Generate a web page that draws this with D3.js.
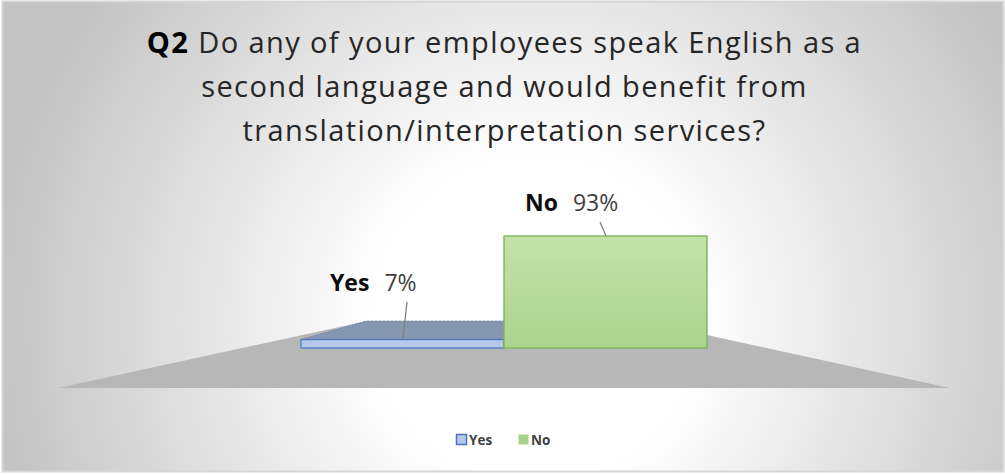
<!DOCTYPE html>
<html>
<head>
<meta charset="utf-8">
<script src="https://cdn.jsdelivr.net/npm/d3@7"></script>
<style>
  html, body { margin: 0; padding: 0; background: #ffffff; }
  svg { display: block; }
</style>
</head>
<body>
<div id="viz"></div>
<script>
// Survey answer shares.
const categories = ["Yes", "No"];
const values = [7, 93];
const valueLabels = ["7%", "93%"];
const titleLines = [
  ["Q2", " Do any of your employees speak English as a"],
  ["", "second language and would benefit from"],
  ["", "translation/interpretation services?"]
];

const W = 1005, H = 474;
const FONT = "'Open Sans', Lato, sans-serif";

const svg = d3.select("#viz").append("svg")
  .attr("width", W)
  .attr("height", H);

const defs = svg.append("defs");

const bg = defs.append("radialGradient")
  .attr("id", "bg")
  .attr("gradientUnits", "userSpaceOnUse")
  .attr("cx", 535).attr("cy", 320).attr("r", 545);
bg.append("stop").attr("offset", 0).attr("stop-color", "#ffffff");
bg.append("stop").attr("offset", 0.3).attr("stop-color", "#ffffff");
bg.append("stop").attr("offset", 1).attr("stop-color", "#c3c3c3");

const green = defs.append("linearGradient")
  .attr("id", "greenFace")
  .attr("x1", 0).attr("y1", 0).attr("x2", 0).attr("y2", 1);
green.append("stop").attr("offset", 0).attr("stop-color", "#c4e2a8");
green.append("stop").attr("offset", 1).attr("stop-color", "#acd38e");

// chart area with border
svg.append("rect")
  .attr("x", 2.5).attr("y", 1.5)
  .attr("width", W - 4).attr("height", H - 4)
  .attr("fill", "url(#bg)")
  .attr("stroke", "#d6d6d6")
  .attr("stroke-width", 2);

// title
const title = svg.append("text")
  .attr("text-anchor", "middle")
  .attr("fill", "#262626")
  .style("font-family", FONT)
  .style("font-size", "29px")
  .style("letter-spacing", "1.4px");

titleLines.forEach((line, i) => {
  const t = title.append("tspan")
    .attr("x", W / 2 + 2)
    .attr("y", 53 + i * 44);
  if (line[0]) t.append("tspan").style("font-weight", "bold").attr("fill", "#000").text(line[0]);
  t.append("tspan").text(line[1]);
});

// scales
const x = d3.scaleBand()
  .domain(categories)
  .range([301, 707])
  .padding(0);

const y = d3.scaleLinear()
  .domain([0, 100])
  .range([348, 227.6]);

// floor (perspective trapezoid)
const floorBottom = 388, floorTop = 321;
const floor = [[58, floorBottom], [367, floorTop], [643, floorTop], [950, floorBottom]];
svg.append("path")
  .attr("d", d3.line()(floor) + "Z")
  .attr("fill", "#b7b7b7");

// bar depth (top face offset)
const depthX = 65, depthY = -18.5;

const bars = categories.map((c, i) => ({
  cat: c,
  value: values[i],
  label: valueLabels[i],
  x0: x(c),
  x1: x(c) + x.bandwidth(),
  top: y(values[i]),
  base: y(0)
}));

const yes = bars[0], no = bars[1];

// Yes bar top face (visible, below eye level)
svg.append("path")
  .attr("d", d3.line()([
    [yes.x0, yes.top],
    [yes.x0 + depthX, yes.top + depthY],
    [yes.x1 + depthX, yes.top + depthY],
    [yes.x1, yes.top]
  ]) + "Z")
  .attr("fill", "#8697b1")
  .attr("stroke", "#6f84a8")
  .attr("stroke-width", 0.8)
  .attr("stroke-dasharray", "3,1");

// Yes front face
svg.append("rect")
  .attr("x", yes.x0).attr("y", yes.top)
  .attr("width", yes.x1 - yes.x0)
  .attr("height", yes.base - yes.top)
  .attr("fill", "#b4c8ea")
  .attr("stroke", "#4a72c0")
  .attr("stroke-width", 1.2);

// No front face
svg.append("rect")
  .attr("x", no.x0).attr("y", no.top)
  .attr("width", no.x1 - no.x0)
  .attr("height", no.base - no.top)
  .attr("fill", "url(#greenFace)")
  .attr("stroke", "#7fb45a")
  .attr("stroke-width", 1.4);

// data labels with leader lines
const labelPos = [
  { cx: 330, by: 291, lead: [[407, 302], [403, 338]] },
  { cx: 525, by: 211, lead: [[600, 222], [606, 236]] }
];

bars.forEach((b, i) => {
  const p = labelPos[i];
  const t = svg.append("text")
    .attr("x", p.cx)
    .attr("y", p.by)
    .style("font-family", FONT);
  t.append("tspan")
    .attr("fill", "#0d0d0d")
    .style("font-weight", "bold")
    .style("font-size", "23px")
    .text(b.cat);
  t.append("tspan")
    .attr("dx", 15)
    .attr("fill", "#404040")
    .style("font-size", "23px")
    .text(b.label);
  svg.append("path")
    .attr("d", d3.line()(p.lead))
    .attr("stroke", "#7f7f7f")
    .attr("stroke-width", 1.3)
    .attr("fill", "none");
});

// legend
const legend = svg.append("g").attr("transform", "translate(456,434)");
const legendColors = [
  { fill: "#b4c8ea", stroke: "#4a72c0" },
  { fill: "#a9d18e", stroke: "none" }
];
let lx = 0;
categories.forEach((c, i) => {
  legend.append("rect")
    .attr("x", lx + 0.5).attr("y", 0.5)
    .attr("width", 10).attr("height", 10)
    .attr("fill", legendColors[i].fill)
    .attr("stroke", legendColors[i].stroke)
    .attr("stroke-width", 1.5);
  legend.append("text")
    .attr("x", lx + 13)
    .attr("y", 11)
    .attr("fill", "#404040")
    .style("font-family", FONT)
    .style("font-size", "13.5px")
    .style("font-weight", "bold")
    .text(c);
  lx += 62;
});
</script>
</body>
</html>
